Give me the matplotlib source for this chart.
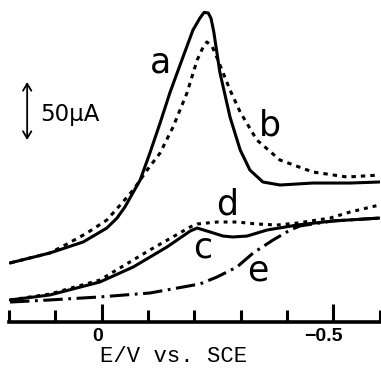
import numpy as np
import matplotlib
matplotlib.use("Agg")
import matplotlib.pyplot as plt
import matplotlib.transforms as mtransforms

# potentials (V vs. SCE) and currents (uA, arbitrary zero)
E_a = [0.198, 0.112, 0.040, -0.011, -0.033, -0.050, -0.083, -0.104, -0.126, -0.147,
       -0.173, -0.197, -0.212, -0.221, -0.230, -0.236, -0.242, -0.255, -0.277, -0.299,
       -0.320, -0.348, -0.385, -0.456, -0.536, -0.600]
i_a = [50.9, 59.5, 69.0, 81.0, 89.6, 99.1, 122.4, 145.7, 171.5, 197.4,
       225.8, 251.7, 262.0, 266.9, 266.4, 261.8, 250.0, 215.5, 176.7, 148.3,
       131.0, 120.7, 118.1, 119.8, 119.8, 120.7]

E_b = [0.198, 0.112, 0.075, 0.032, -0.011, -0.040, -0.068, -0.098, -0.126, -0.154,
       -0.184, -0.206, -0.219, -0.227, -0.238, -0.251, -0.277, -0.299, -0.335,
       -0.385, -0.456, -0.530, -0.600]
i_b = [50.9, 59.5, 67.2, 76.7, 87.9, 100.9, 113.8, 131.0, 145.7, 168.1,
       197.4, 225.8, 237.1, 241.4, 237.9, 225.8, 200.0, 181.0, 156.9,
       139.6, 129.3, 125.0, 126.7]

E_c = [0.198, 0.112, 0.004, -0.068, -0.141, -0.191, -0.206, -0.234, -0.262, -0.283,
       -0.314, -0.357, -0.422, -0.499, -0.600]
i_c = [19.0, 23.3, 34.5, 47.4, 64.7, 78.4, 81.0, 77.6, 74.1, 73.3,
       74.1, 79.3, 83.6, 87.1, 89.6]

E_d = [0.198, 0.112, 0.004, -0.104, -0.191, -0.206, -0.249, -0.292, -0.335, -0.378,
       -0.422, -0.493, -0.536, -0.600]
i_d = [19.0, 24.1, 36.2, 62.1, 81.9, 84.5, 86.2, 86.2, 84.5, 83.6,
       85.3, 89.6, 94.8, 100.9]

E_e = [0.198, 0.112, 0.004, -0.104, -0.212, -0.249, -0.292, -0.327, -0.370, -0.407,
       -0.428, -0.499, -0.600]
i_e = [17.2, 19.0, 21.6, 25.0, 32.8, 38.8, 47.4, 59.5, 70.7, 79.3,
       82.8, 87.1, 89.6]

labels = ["a", "b", "c", "d", "e"]
label_E = [-0.126, -0.363, -0.219, -0.271, -0.337]
label_i = [223.3, 169.8, 63.8, 100.9, 44.8]

major_ticks = [0.0, -0.5]
major_labels = ["0", "\u22120.5"]
minor_ticks = [0.2, 0.1, -0.1, -0.2, -0.3, -0.4, -0.6]

plt.rcParams["lines.scale_dashes"] = False

fig = plt.figure(figsize=(3.81, 3.69), dpi=100)
ax = fig.add_axes([9.1 / 381, 47 / 369, 370.5 / 381, 322 / 369])

lw = 2.2
ax.plot(E_a, i_a, color="black", lw=lw, solid_capstyle="round", solid_joinstyle="round")
ax.plot(E_b, i_b, color="black", lw=lw, dashes=(3.2, 3.6))
ax.plot(E_c, i_c, color="black", lw=lw, solid_capstyle="round", solid_joinstyle="round")
ax.plot(E_d, i_d, color="black", lw=lw, dashes=(2.8, 3.6))
ax.plot(E_e, i_e, color="black", lw=lw, dashes=(14, 4, 2, 4))

for lab, x, y in zip(labels, label_E, label_i):
    ax.text(x, y, lab, fontsize=25, ha="center", va="center", family="DejaVu Sans")

# 50 uA scale bar
ax.annotate("", xy=(0.161, 206.9), xytext=(0.161, 156.9),
            arrowprops=dict(arrowstyle="<->,head_length=0.5,head_width=0.3",
                            lw=1.3, color="black", shrinkA=0, shrinkB=0))
ax.text(0.133, 179.3, "50\u00b5A", fontsize=16.5, ha="left", va="center")

ax.set_xlim(0.2, -0.6)
ax.set_ylim(0, 277.6)

for s in ["top", "left", "right"]:
    ax.spines[s].set_visible(False)
ax.spines["bottom"].set_linewidth(2.6)
ax.set_yticks([])

ax.set_xticks(major_ticks)
ax.set_xticklabels(major_labels, fontsize=14, fontweight="bold", family="Liberation Sans")
ax.set_xticks(minor_ticks, minor=True)
ax.tick_params(axis="x", which="major", direction="in", length=13, width=2.2, pad=4)
ax.tick_params(axis="x", which="minor", direction="in", length=8.5, width=2.2)

# tick labels sit a little left of their ticks in the original
shifts = [-4, -10]
for lbl, dx in zip(ax.get_xticklabels(), shifts):
    lbl.set_transform(lbl.get_transform() + mtransforms.ScaledTranslation(dx / 100, 0, fig.dpi_scale_trans))

fig.text(174 / 381, 1 - 362 / 369, "E/V vs. SCE", fontsize=16, family="Liberation Mono",
         ha="center", va="baseline")

fig.savefig("out.png", dpi=100)
